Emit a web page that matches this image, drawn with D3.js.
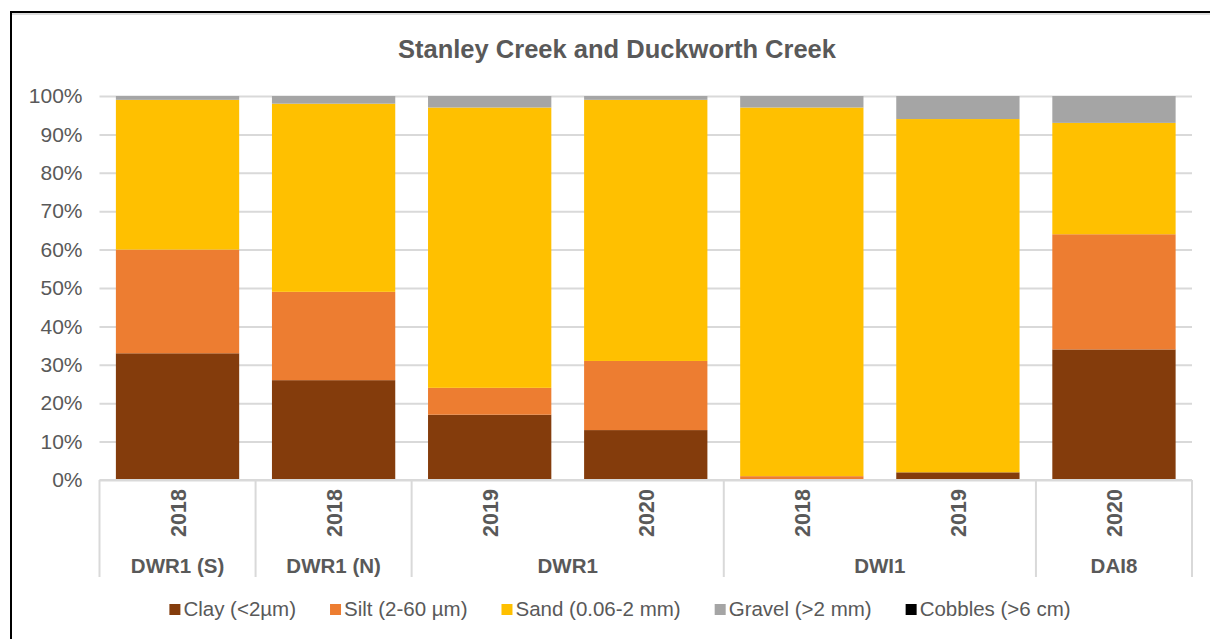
<!DOCTYPE html>
<html>
<head>
<meta charset="utf-8">
<script src="https://cdn.jsdelivr.net/npm/d3@7"></script>
<style>
  html, body { margin: 0; padding: 0; background: #fff; }
  svg { display: block; font-family: "Liberation Sans", Arial, sans-serif; }
</style>
</head>
<body>
<svg id="chart" width="1210" height="639"></svg>
<script>
// Sample sites, sampling years and grain-size fractions (% of sample)
const sites   = ["DWR1 (S)", "DWR1 (N)", "DWR1", "DWR1", "DWI1", "DWI1", "DAI8"];
const years   = ["2018", "2018", "2019", "2020", "2018", "2019", "2020"];
const clay    = [33, 26, 17, 13, 0, 2, 34];
const silt    = [27, 23, 7, 18, 1, 0, 30];
const sand    = [39, 49, 73, 68, 96, 92, 29];
const gravel  = [1, 2, 3, 1, 3, 6, 7];
const cobbles = [0, 0, 0, 0, 0, 0, 0];

const seriesNames  = ["Clay (<2µm)", "Silt (2-60 µm)", "Sand (0.06-2 mm)", "Gravel (>2 mm)", "Cobbles (>6 cm)"];
const seriesColors = ["#843c0c", "#ed7d31", "#ffc000", "#a5a5a5", "#000000"];
const yTicks = [0, 0.1, 0.2, 0.3, 0.4, 0.5, 0.6, 0.7, 0.8, 0.9, 1.0];

const keys = ["clay", "silt", "sand", "gravel", "cobbles"];
const rows = sites.map((s, i) => ({
  id: i, site: s, year: years[i],
  clay: clay[i], silt: silt[i], sand: sand[i], gravel: gravel[i], cobbles: cobbles[i]
}));

const svg = d3.select("#chart");
const textColor = "#595959";
const gridColor = "#d9d9d9";

// Chart frame
svg.append("rect")
  .attr("x", 11).attr("y", 12).attr("width", 1260).attr("height", 700)
  .attr("fill", "none").attr("stroke", "#000").attr("stroke-width", 2);
svg.append("line")
  .attr("x1", 12).attr("x2", 1210).attr("y1", 14).attr("y2", 14)
  .attr("stroke", "#d0d0d0").attr("stroke-width", 1.5);

const plot = { left: 99.5, right: 1192, top: 96, bottom: 480 };

const x = d3.scaleBand()
  .domain(rows.map(d => d.id))
  .range([plot.left, plot.right])
  .paddingInner(0.21)
  .paddingOuter(0.105);

const y = d3.scaleLinear().domain([0, 1]).range([plot.bottom, plot.top]);

// Title
svg.append("text")
  .attr("x", 617).attr("y", 58)
  .attr("text-anchor", "middle")
  .attr("font-size", 25.5).attr("font-weight", "bold")
  .attr("fill", textColor)
  .text("Stanley Creek and Duckworth Creek");

// Gridlines and percentage labels
const yAxis = d3.axisLeft(y)
  .tickValues(yTicks)
  .tickSize(-(plot.right - plot.left))
  .tickPadding(17)
  .tickFormat(d3.format(".0%"));

const gy = svg.append("g")
  .attr("transform", `translate(${plot.left},0)`)
  .call(yAxis);
gy.select(".domain").remove();
gy.selectAll(".tick line").attr("stroke", gridColor).attr("stroke-width", 2);
gy.selectAll(".tick text")
  .attr("fill", textColor)
  .attr("font-size", 21)
  .attr("font-family", "Liberation Sans, Arial, sans-serif");

// Stacked bars
const totals = rows.map(r => keys.reduce((a, k) => a + r[k], 0));
const stack = d3.stack().keys(keys)
  .value((d, k) => d[k] / totals[d.id]);
const layers = stack(rows);

svg.append("g").selectAll("g")
  .data(layers)
  .join("g")
  .attr("fill", (d, i) => seriesColors[i])
  .selectAll("rect")
  .data(d => d)
  .join("rect")
  .attr("x", d => x(d.data.id))
  .attr("width", x.bandwidth())
  .attr("y", d => y(d[1]))
  .attr("height", d => y(d[0]) - y(d[1]));

// Category axis: baseline, group separators, years and site labels
const axisBottom = 577;
svg.append("line")
  .attr("x1", plot.left).attr("x2", plot.right)
  .attr("y1", plot.bottom).attr("y2", plot.bottom)
  .attr("stroke", gridColor).attr("stroke-width", 2);

// groups of consecutive equal site names
const groups = [];
rows.forEach(r => {
  const last = groups[groups.length - 1];
  if (last && last.site === r.site) last.ids.push(r.id);
  else groups.push({ site: r.site, ids: [r.id] });
});

const step = x.step();
const slotStart = id => x(id) - (step - x.bandwidth()) / 2;
const sepXs = [plot.left].concat(groups.map(g => slotStart(g.ids[g.ids.length - 1]) + step));

svg.append("g").selectAll("line")
  .data(sepXs)
  .join("line")
  .attr("x1", d => d).attr("x2", d => d)
  .attr("y1", plot.bottom).attr("y2", axisBottom)
  .attr("stroke", gridColor).attr("stroke-width", 2);

svg.append("g").selectAll("text")
  .data(rows)
  .join("text")
  .attr("transform", d => `translate(${x(d.id) + x.bandwidth() / 2 + 8},513) rotate(-90)`)
  .attr("text-anchor", "middle")
  .attr("font-size", 21.5).attr("font-weight", "bold")
  .attr("fill", textColor)
  .text(d => d.year);

svg.append("g").selectAll("text")
  .data(groups)
  .join("text")
  .attr("x", g => (slotStart(g.ids[0]) + slotStart(g.ids[g.ids.length - 1]) + step) / 2)
  .attr("y", 573)
  .attr("text-anchor", "middle")
  .attr("font-size", 20.5).attr("font-weight", "bold")
  .attr("fill", textColor)
  .text(g => g.site);

// Legend
const legend = svg.append("g");
const items = legend.selectAll("g")
  .data(seriesNames)
  .join("g");
items.append("rect")
  .attr("width", 11).attr("height", 11)
  .attr("y", -12)
  .attr("fill", (d, i) => seriesColors[i]);
items.append("text")
  .attr("x", 14).attr("y", 0)
  .attr("font-size", 20.5)
  .attr("fill", textColor)
  .text(d => d);

let cx = 0;
const gap = 34;
items.each(function () {
  const w = this.getBBox().width;
  d3.select(this).attr("transform", `translate(${cx},0)`);
  cx += w + gap;
});
const legendWidth = cx - gap;
legend.attr("transform", `translate(${620 - legendWidth / 2},616)`);
</script>
</body>
</html>
